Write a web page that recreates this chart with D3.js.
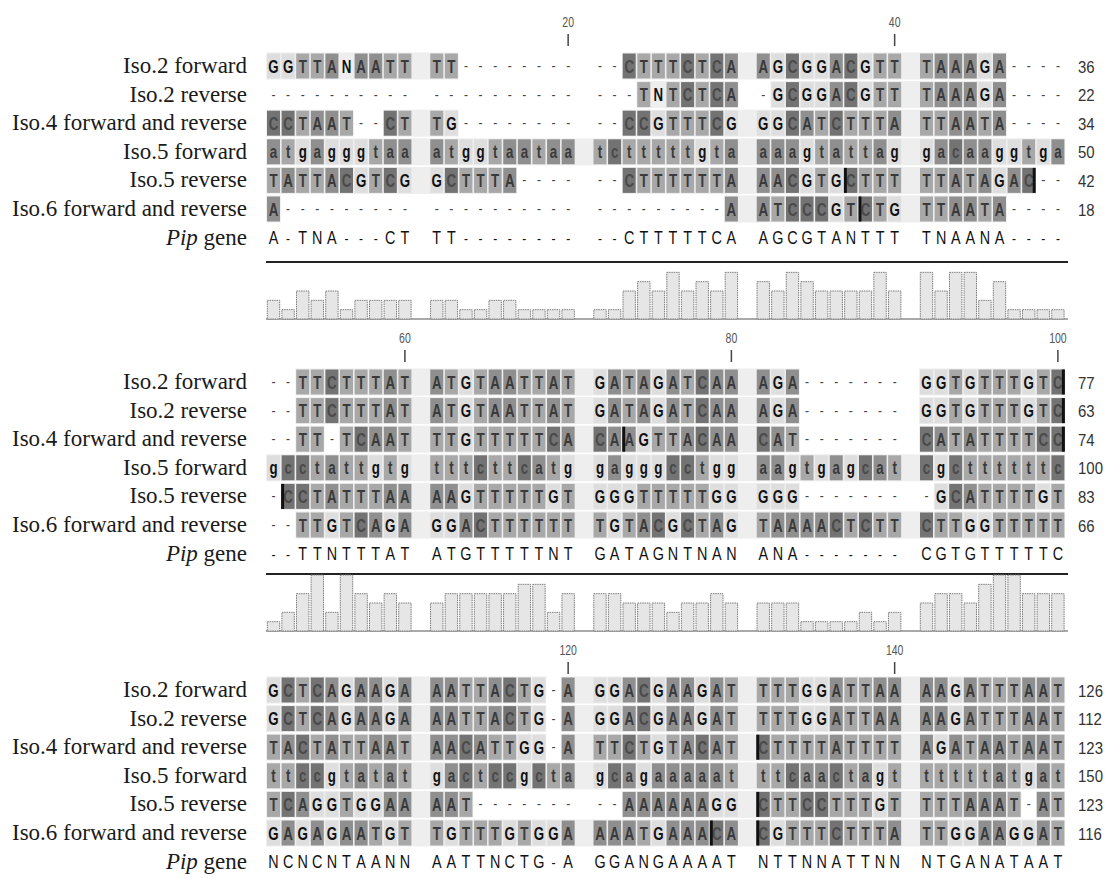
<!DOCTYPE html>
<html>
<head>
<meta charset="utf-8">
<script src="https://cdn.jsdelivr.net/npm/d3@7"></script>
<style>
  body { margin: 0; background: #fff; }
  svg { display: block; }
</style>
</head>
<body>
<svg id="chart" width="1112" height="879"></svg>
<script>
// alignment, one string per block of 50 columns (groups of ten split by spaces)
const iso2Forward = [
  "GGTTANAATT TT-------- --CTTTCTCA AGCGGACGTT TAAAGA----",
  "--TTCTTTAT ATGTAATTAT GATAGATCAA AGA------- GGTGTTTGTC",
  "GCTCAGAAGA AATTACTG-A GGACGAAGAT TTTGGATTAA AAGATTTAAT"
];
const iso2Reverse = [
  "---------- ---------- ---TNTCTCA -GCGGACGTT TAAAGA----",
  "--TTCTTTAT ATGTAATTAT GATAGATCAA AGA------- GGTGTTTGTC",
  "GCTCAGAAGA AATTACTG-A GGACGAAGAT TTTGGATTAA AAGATTTAAT"
];
const iso4Both = [
  "CCTAAT--CT TG-------- --CCGTTTCG GGCATCTTTA TTAATA----",
  "--TT-TCAAT TTGTTTTTCA CAAGTTACAA CAT------- CATATTTTCC",
  "TACTATTAAT AACATTGG-A TTCTGTACAT CTTTTATTTT AGATAATAAT"
];
const iso5Forward = [
  "atgagggtaa atggtaataa tctttttgta aaagtattag gacaaggtga",
  "gcctattgtg tttcttcatg gagggcctgg aagtgagcat cgcttttttc",
  "ttccgtatat gactccgcta gcagaaaaat ttcaactagt tttttatgat"
];
const iso5Reverse = [
  "TATTACGTCG GCTTTA---- --CTTTTTTA AACGTGCTTT TTATAGAC--",
  "-CCTATTTAA AAGTTTTTGT GGGTTTTTGG GGG------- -GCATTTTGT",
  "TCAGGTGGAA AAT------- --AAAAAAGG CTTCCTTTGT TTTAAAT-AT"
];
const iso6Both = [
  "A--------- ---------- ---------A ATCCCGTCTG TTAATA----",
  "--TTGTCAGA GGACTTTTTT TGTACGCTAG TAAAACTCTT CTTGGTTTTT",
  "GAGAGAATGT TGTTTGTGGA AAATGAAACA CGTTTCTTTA TTGGAAGGAT"
];
const pipGene = [
  "A-TNA---CT TT-------- --CTTTTTCA AGCGTANTTT TNAANA----",
  "--TTNTTTAT ATGTTTTTNT GATAGNTNAN ANA------- CGTGTTTTTC",
  "NCNCNTAANN AATTNCTG-A GGANGAAAAT NTTNNATTNN NTGANATAAT"
];

const rowLabels = [
  "Iso.2 forward", "Iso.2 reverse", "Iso.4 forward and reverse",
  "Iso.5 forward", "Iso.5 reverse", "Iso.6 forward and reverse"
];
// residue counts at the end of each block
const endCounts = [
  [36, 22, 34, 50, 42, 18],
  [77, 63, 74, 100, 83, 66],
  [126, 112, 123, 150, 123, 116]
];
const tickCols = [20, 40, 60, 80, 100, 120, 140];

// identity histogram under blocks 1 and 2 (levels 0-6)
const identity1 = [2,1,3,2,3,1,2,2,2,2, 2,2,1,1,2,2,1,1,1,1, 1,1,3,4,3,5,3,4,3,5,
                   4,3,5,4,3,3,3,3,5,3, 5,3,5,5,2,4,1,1,1,1];
const identity2 = [1,2,4,6,2,6,4,3,4,3, 3,4,4,4,4,4,5,5,2,4, 4,4,3,3,3,2,3,3,4,3,
                   3,3,3,1,1,1,1,2,1,2, 3,4,4,3,5,6,6,4,4,4];

// dark trace marks seen on some cells: [row, column, at right edge?]
const darkMarks = [[4, 37, 0], [5, 38, 0], [4, 48, 1], [4, 52, 0], [2, 73, 0], [0, 100, 1],
                   [1, 100, 1], [2, 100, 1], [5, 129, 0], [2, 131, 0], [4, 131, 0], [5, 131, 0]];

const rows = [iso2Forward, iso2Reverse, iso4Both, iso5Forward, iso5Reverse, iso6Both];

const baseFill = { A: "#8f8f8f", C: "#737373", T: "#a8a8a8", G: "#dedede" };
const baseInk = { A: "#3a3a3a", C: "#4a4a4a", T: "#3a3a3a", G: "#111" };

const svg = d3.select("#chart");

const groupX = d3.scaleLinear().domain([0, 1]).range([267, 430.25]);
const colX = d3.scaleLinear().domain([0, 1]).range([0, 14.6]);
const xPos = (i) => groupX(Math.floor(i / 10)) + colX(i % 10); // i = 0..49
const cellW = 13;

const blockTop = [66, 382, 690];
const yScales = blockTop.map((t) => d3.scaleLinear().domain([0, 1]).range([t, t + 28.6]));
const tickLabelY = [22, 338, 650];

const lineY = [262, 574];
const histBase = [319, 631];

const seqFont = "'Liberation Sans', Arial, sans-serif";
const labelFont = "'Liberation Serif', 'Times New Roman', serif";

blockTop.forEach((top, b) => {
  const y = yScales[b];
  const g = svg.append("g");

  // position ticks
  tickCols.filter((c) => Math.floor((c - 1) / 50) === b).forEach((c) => {
    const cx = xPos((c - 1) % 50) + cellW / 2;
    g.append("text")
      .attr("transform", `translate(${cx},${tickLabelY[b] + 5}) scale(0.75,1)`)
      .attr("text-anchor", "middle")
      .style("font-family", seqFont)
      .style("font-size", "14px")
      .attr("fill", "#555")
      .text(c);
    g.append("line")
      .attr("x1", cx).attr("x2", cx)
      .attr("y1", tickLabelY[b] + 12).attr("y2", tickLabelY[b] + 24)
      .attr("stroke", "#444")
      .attr("stroke-width", 1.5);
  });

  rows.forEach((rowSeq, r) => {
    const chars = rowSeq[b].replace(/ /g, "").split("");
    const cy = y(r);

    // pale track under each contiguous run of residues
    let start = null;
    chars.forEach((ch, i) => {
      const isRes = ch !== "-";
      if (isRes && start === null) start = i;
      if ((!isRes || i === chars.length - 1) && start !== null) {
        const end = isRes ? i : i - 1;
        g.append("rect")
          .attr("x", xPos(start) - 0.8)
          .attr("y", cy - 13.5)
          .attr("width", xPos(end) + cellW + 0.8 - (xPos(start) - 0.8))
          .attr("height", 27)
          .attr("fill", "#eeeeee");
        start = null;
      }
    });

    chars.forEach((ch, i) => {
      const base = ch.toUpperCase();
      const cx = xPos(i) + cellW / 2;
      if (ch === "-") {
        g.append("text")
          .attr("transform", `translate(${cx},${cy + 5}) scale(0.8,1)`)
          .attr("text-anchor", "middle")
          .style("font-family", seqFont)
          .style("font-size", "15px")
          .attr("fill", "#444")
          .text("-");
        return;
      }
      if (baseFill[base]) {
        g.append("rect")
          .attr("x", xPos(i))
          .attr("y", cy - 12.5)
          .attr("width", cellW)
          .attr("height", 25)
          .attr("fill", baseFill[base]);
      }
      g.append("text")
        .attr("transform", `translate(${cx},${cy + 6.5}) scale(0.74,1)`)
        .attr("text-anchor", "middle")
        .style("font-family", seqFont)
        .style("font-size", "18px")
        .style("font-weight", "bold")
        .attr("fill", baseInk[base] || "#111")
        .text(ch);
    });

    // residue count at the right
    g.append("text")
      .attr("transform", `translate(1078,${cy + 6.5}) scale(0.88,1)`)
      .style("font-family", seqFont)
      .style("font-size", "17px")
      .attr("fill", "#333")
      .text(endCounts[b][r]);

    g.append("text")
      .attr("x", 247)
      .attr("y", cy + 7)
      .attr("text-anchor", "end")
      .style("font-family", labelFont)
      .style("font-size", "23px")
      .attr("fill", "#1a1a1a")
      .text(rowLabels[r]);
  });

  // Pip gene consensus row
  const pipY = y(6);
  pipGene[b].replace(/ /g, "").split("").forEach((ch, i) => {
    g.append("text")
      .attr("transform", `translate(${xPos(i) + cellW / 2},${pipY + 6.5}) scale(0.8,1)`)
      .attr("text-anchor", "middle")
      .style("font-family", seqFont)
      .style("font-size", ch === "-" ? "15px" : "18px")
      .attr("fill", "#111")
      .text(ch);
  });
  const pipLabel = g.append("text")
    .attr("x", 247)
    .attr("y", pipY + 7)
    .attr("text-anchor", "end")
    .style("font-family", labelFont)
    .style("font-size", "23px")
    .attr("fill", "#1a1a1a");
  pipLabel.append("tspan").style("font-style", "italic").text("Pip");
  pipLabel.append("tspan").text(" gene");
});

// dark trace marks
darkMarks.forEach(([r, c, right]) => {
  const b = Math.floor((c - 1) / 50);
  const i = (c - 1) % 50;
  svg.append("rect")
    .attr("x", right ? xPos(i) + cellW - 2.5 : xPos(i) - 0.5)
    .attr("y", yScales[b](r) - 12.5)
    .attr("width", 3)
    .attr("height", 25)
    .attr("fill", "#111");
});

// identity histograms with separator lines
[identity1, identity2].forEach((vals, b) => {
  const h = d3.scaleLinear().domain([0, 6]).range([histBase[b], histBase[b] - 56]);
  svg.append("line")
    .attr("x1", 266).attr("x2", 1068)
    .attr("y1", lineY[b]).attr("y2", lineY[b])
    .attr("stroke", "#222")
    .attr("stroke-width", 2);
  svg.append("line")
    .attr("x1", 266).attr("x2", 1068)
    .attr("y1", histBase[b]).attr("y2", histBase[b])
    .attr("stroke", "#555")
    .attr("stroke-width", 1.2);
  svg.append("g")
    .selectAll("rect")
    .data(vals)
    .join("rect")
    .attr("x", (d, i) => xPos(i) + 0.3)
    .attr("y", (d) => h(d))
    .attr("width", 12.4)
    .attr("height", (d) => histBase[b] - h(d))
    .attr("fill", "#e6e6e6")
    .attr("stroke", "#7d7d7d")
    .attr("stroke-width", 1)
    .attr("stroke-dasharray", "1.5,0.8");
});
</script>
</body>
</html>
